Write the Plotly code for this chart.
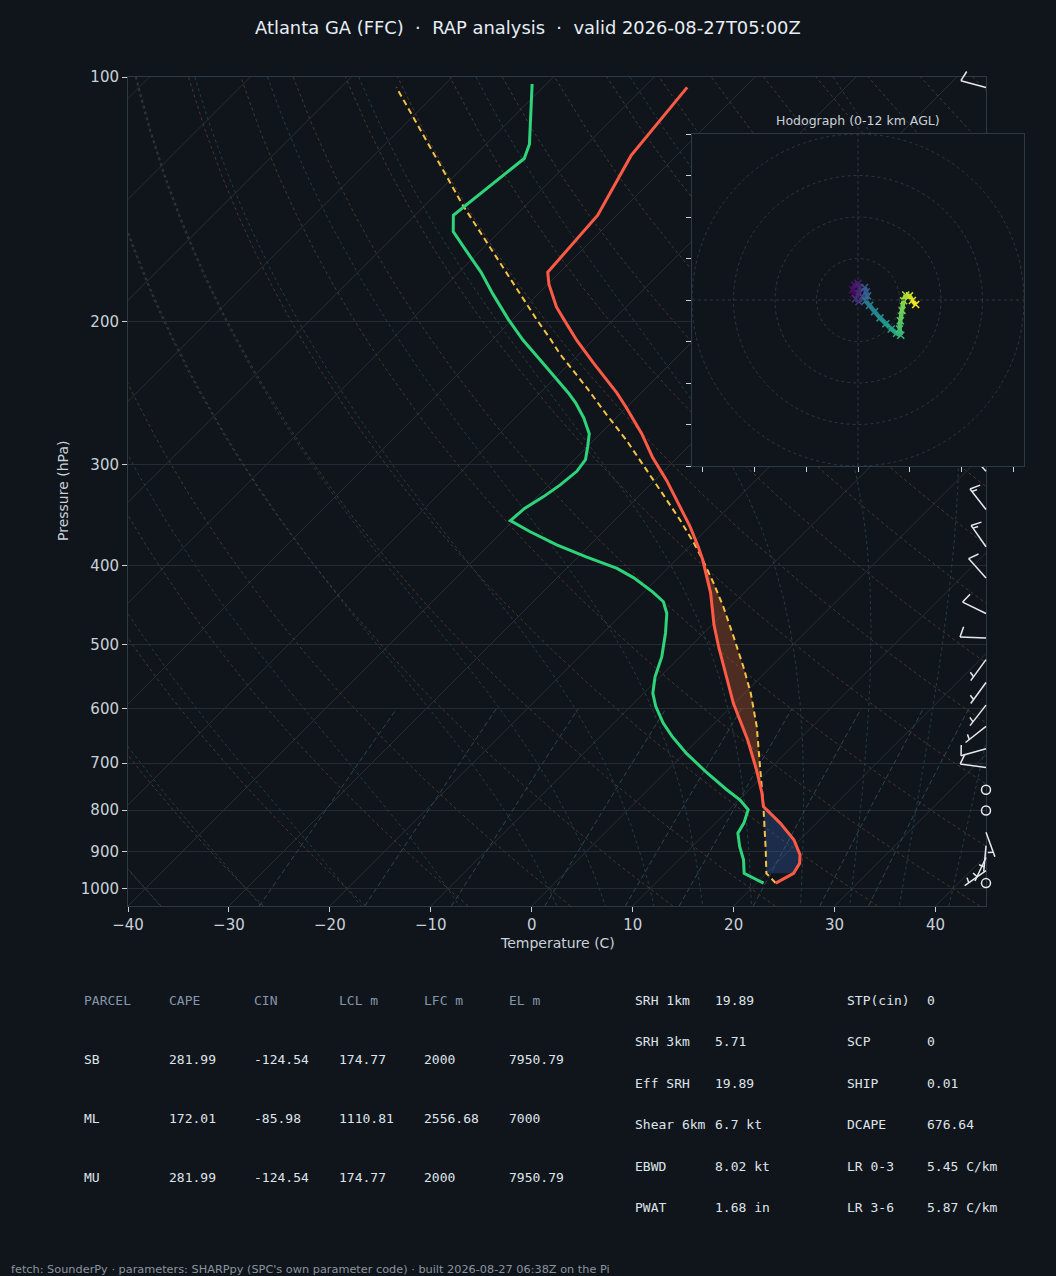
import numpy as np
import plotly.graph_objects as go
from plotly.colors import sample_colorscale

# --- sounding values (pressure hPa, temperature C) ---
ENV_P = [984, 957, 930, 908, 870, 830, 792, 762, 714, 655, 591, 503, 473, 432,
         393, 379, 358, 338, 314, 294, 275, 255, 245, 225, 211, 199, 192, 180,
         174, 148, 125, 103]
ENV_T = [21.9, 22.7, 22.3, 21.5, 19.4, 16.4, 13.1, 11.6, 8.8, 4.9, -0.1, -7.2,
         -9.8, -13.3, -17.4, -19.1, -21.9, -24.9, -28.8, -32.5, -35.9, -40.1,
         -42.4, -47.7, -51.6, -54.9, -56.9, -59.9, -61.2, -61.9, -64.5, -65.7]

DWPT_P = [984, 957, 921, 887, 854, 830, 799, 777, 755, 720, 681, 649, 625, 596,
          574, 548, 518, 484, 458, 443, 431, 414, 403, 390, 377, 363, 352, 340,
          329, 318, 306, 296, 285, 275, 263, 252, 245, 236, 223, 211, 199, 185,
          174, 164, 155, 148, 126, 121, 102]
DWPT_T = [20.7, 17.8, 16.4, 14.7, 13.2, 12.8, 11.9, 10.1, 7.8, 4.2, 0.2, -2.9,
          -5.1, -7.5, -9.1, -10.5, -11.8, -13.8, -15.6, -17.1, -19.1, -22.4,
          -25.0, -29.2, -33.3, -37.3, -40.3, -40.1, -39.4, -38.9, -38.6, -38.9,
          -40.0, -41.1, -43.2, -45.5, -47.2, -49.6, -53.3, -56.9, -60.4, -64.5,
          -67.8, -71.3, -74.6, -76.2, -74.8, -75.7, -81.4]

PARCEL_P = [984, 957, 895, 792, 707, 631, 574, 532, 489, 449, 420, 393, 375,
            351, 326, 305, 280, 260, 241, 219, 210, 199, 144, 103]
PARCEL_T = [21.9, 20.0, 17.6, 13.1, 8.8, 4.5, 0.6, -2.8, -6.7, -10.7, -14.0,
            -17.4, -19.9, -23.6, -27.9, -31.8, -36.8, -41.4, -46.0, -52.0,
            -54.4, -57.6, -76.2, -94.5]

# pressure bounds of the shaded areas
CAPE_BOUNDS = (393, 792)
CIN_BOUNDS = (792, 957)

# wind barbs (knots)
BARB_P = [103, 306, 341, 379, 414, 458, 491, 522, 557, 594, 631, 672, 709,
          755, 801, 852, 885, 915, 950, 984]
BARB_DIR = [285, 318, 322, 325, 318, 296, 272, 216, 216, 218, 232, 254, 278,
            0, 0, 160, 185, 205, 235, 0]
BARB_KT = [10, 15, 15, 15, 10, 10, 10, 5, 5, 5, 5, 10, 10, 0, 0, 5, 5, 5, 5, 0]

# hodograph (km AGL, u/v knots)
HODO_Z = [0, 0.25, 0.5, 0.75, 1.0, 1.25, 1.5, 1.75, 2.0, 2.5, 3.0, 3.5, 4.0,
          4.5, 5.0, 5.5, 6.0, 6.5, 7.0, 7.5, 8.0, 8.5, 9.0, 9.5, 10.0, 10.5,
          11.0, 11.5, 12.0]
HODO_U = [-0.3, -1.0, -1.3, -0.8, 0.0, 0.5, 0.2, -0.6, 0.2, 1.3, 2.0, 1.6, 2.3,
          1.8, 2.8, 4.0, 5.3, 6.7, 8.0, 9.3, 10.3, 10.0, 10.2, 10.6, 11.0,
          11.5, 12.4, 13.1, 13.9]
HODO_V = [0.5, 1.5, 2.5, 3.6, 4.0, 3.0, 1.5, 0.3, -0.4, 0.6, 2.0, 3.0, 1.0,
          -0.2, -1.3, -2.8, -4.3, -5.7, -7.0, -8.0, -8.5, -7.0, -5.0, -2.5,
          -0.2, 1.2, 1.0, -0.1, -1.1]
HODO_RINGS = [10, 20, 30, 40]
HODO_XTICKS = [-37.5, -25, -12.5, 0, 12.5, 25, 37.5]
HODO_YTICKS = [-40, -30, -20, -10, 0, 10, 20, 30, 40]

# background lines
DRY_T0 = list(range(-40, 241, 10))
MOIST_T0 = [-40, -30, -20, -10, 0, 5, 10, 15, 20, 25, 30, 35, 40, 45]
MIX_W = [0.0004, 0.001, 0.002, 0.004, 0.007, 0.01, 0.016, 0.024, 0.032]
ISOTHERMS = list(range(-130, 50, 10))

X_TICKS = list(range(-40, 41, 10))
P_TICKS = [100, 200, 300, 400, 500, 600, 700, 800, 900, 1000]

# table
PARCEL_HEAD = ["PARCEL", "CAPE", "CIN", "LCL m", "LFC m", "EL m"]
PARCEL_ROWS = [["SB", "281.99", "-124.54", "174.77", "2000", "7950.79"],
               ["ML", "172.01", "-85.98", "1110.81", "2556.68", "7000"],
               ["MU", "281.99", "-124.54", "174.77", "2000", "7950.79"]]
KIN_LABELS = ["SRH 1km", "SRH 3km", "Eff SRH", "Shear 6km", "EBWD", "PWAT"]
KIN_VALUES = ["19.89", "5.71", "19.89", "6.7 kt", "8.02 kt", "1.68 in"]
IDX_LABELS = ["STP(cin)", "SCP", "SHIP", "DCAPE", "LR 0-3", "LR 3-6"]
IDX_VALUES = ["0", "0", "0.01", "676.64", "5.45 C/km", "5.87 C/km"]

TITLE = "Atlanta GA (FFC)  ·  RAP analysis  ·  valid 2026-08-27T05:00Z"
FOOTER = ("fetch: SounderPy · parameters: SHARPpy (SPC's own parameter code) · "
          "built 2026-08-27 06:38Z on the Pi")

# --- geometry ---
W, H = 1056, 1276
L_PX, R_PX, T_PX, B_PX = 128, 986, 77, 906
P_BOT, P_TOP = 1050.0, 100.0
T_LO, T_HI = -40, 45
DEG_PX = (R_PX - L_PX) / (T_HI - T_LO)
DEC_PX = (B_PX - T_PX) / np.log10(P_BOT / P_TOP)
SKEW = DEC_PX / DEG_PX
HODO_BOX = (692, 1024, 134, 466)

BG = "#10151c"
SPINE = "#2e3946"
GRID = "#232b35"
TEXT = "#c9d1d9"
FONT = "DejaVu Sans"
MONO = "DejaVu Sans Mono"


def skew(t, p):
    return np.asarray(t, float) + SKEW * np.log10(P_BOT / np.asarray(p, float))


def p_to_py(p):
    return T_PX + DEC_PX * np.log10(np.asarray(p, float) / P_TOP)


def join(xs_list, ys_list):
    x, y = [], []
    for xs, ys in zip(xs_list, ys_list):
        x += [float(v) for v in xs] + [None]
        y += [float(v) for v in ys] + [None]
    return x, y


def moist_adiabat(t0c, pres):
    rd, cp, lv, eps = 287.04, 1005.7, 2.501e6, 0.622

    def dtdp(p, t):
        tc = t - 273.15
        es = 6.112 * np.exp(17.67 * tc / (tc + 243.5))
        rs = eps * es / (p - es)
        return (rd * t + lv * rs) / (cp + lv * lv * rs * eps / (rd * t * t)) / p

    out = []
    for seg in (pres[pres <= 1000][::-1], pres[pres >= 1000]):
        t, p0, vals = t0c + 273.15, 1000.0, []
        for p1 in seg:
            h = p1 - p0
            k1 = dtdp(p0, t)
            k2 = dtdp(p0 + h / 2, t + h / 2 * k1)
            k3 = dtdp(p0 + h / 2, t + h / 2 * k2)
            k4 = dtdp(p1, t + h * k3)
            t += h / 6 * (k1 + 2 * k2 + 2 * k3 + k4)
            p0 = p1
            vals.append(t - 273.15)
        out.append((seg, vals))
    p = np.concatenate([out[0][0][::-1], out[1][0]])
    t = np.concatenate([np.array(out[0][1])[::-1], np.array(out[1][1])])
    return t, p


fig = go.Figure()

# isotherms
pp = np.array([P_BOT, P_TOP])
x, y = join([skew([t, t], pp) for t in ISOTHERMS], [pp] * len(ISOTHERMS))
fig.add_trace(go.Scatter(x=x, y=y, mode="lines", line=dict(color="#262e38", width=1)))

# dry adiabats
pl = np.linspace(P_BOT, P_TOP, 60)
dry = [(t0 + 273.15) * (pl / 1000.0) ** 0.2857 - 273.15 for t0 in DRY_T0]
x, y = join([skew(t, pl) for t in dry], [pl] * len(dry))
fig.add_trace(go.Scatter(x=x, y=y, mode="lines",
                         line=dict(color="#4a372a", width=1, dash="3px,3px")))

# moist adiabats
pm = np.concatenate([np.arange(100, 1000, 5.0), [1000.0, 1025.0, 1050.0]])
moist = [moist_adiabat(t0, pm) for t0 in MOIST_T0]
x, y = join([skew(t, p) for t, p in moist], [p for t, p in moist])
fig.add_trace(go.Scatter(x=x, y=y, mode="lines",
                         line=dict(color="#233c46", width=1, dash="3px,3px")))

# mixing ratio lines
pw = np.linspace(P_BOT, 600, 20)
mix = []
for w in MIX_W:
    lnr = np.log(w * pw / (0.622 + w) / 6.112)
    mix.append(243.5 * lnr / (17.67 - lnr))
x, y = join([skew(t, pw) for t in mix], [pw] * len(mix))
fig.add_trace(go.Scatter(x=x, y=y, mode="lines",
                         line=dict(color="#2a4650", width=1, dash="5px,3px")))

# CAPE / CIN shading
envP, envT = np.array(ENV_P, float), np.array(ENV_T, float)
parP, parT = np.array(PARCEL_P, float), np.array(PARCEL_T, float)
for (lo, hi), col in ((CAPE_BOUNDS, "rgba(220,100,50,0.30)"),
                      (CIN_BOUNDS, "rgba(60,110,200,0.27)")):
    me = (envP >= lo) & (envP <= hi)
    mp = (parP >= lo) & (parP <= hi)
    px_ = np.concatenate([skew(envT[me], envP[me]), skew(parT[mp], parP[mp])[::-1]])
    py_ = np.concatenate([envP[me], parP[mp][::-1]])
    fig.add_trace(go.Scatter(x=px_, y=py_, mode="lines", fill="toself",
                             fillcolor=col, line=dict(width=0)))

fig.add_trace(go.Scatter(x=skew(PARCEL_T, PARCEL_P), y=PARCEL_P, mode="lines",
                         line=dict(color="#f5c242", width=2, dash="6px,4px")))
fig.add_trace(go.Scatter(x=skew(DWPT_T, DWPT_P), y=DWPT_P, mode="lines",
                         line=dict(color="#2ed47a", width=3)))
fig.add_trace(go.Scatter(x=skew(ENV_T, ENV_P), y=ENV_P, mode="lines",
                         line=dict(color="#ff5a45", width=3)))

# wind barbs on a pixel overlay
BL = 26.0
bx, by, cx, cy = [], [], [], []
for p, d, s in zip(BARB_P, BARB_DIR, BARB_KT):
    x0, y0 = float(R_PX), float(p_to_py(p))
    n5 = int(round(s / 5.0))
    if n5 == 0:
        cx.append(x0)
        cy.append(y0)
        continue
    r = np.deg2rad(d)
    sx, sy = np.sin(r), -np.cos(r)
    fx, fy = np.cos(r), np.sin(r)
    bx += [x0, x0 + BL * sx, None]
    by += [y0, y0 + BL * sy, None]
    pos = BL
    for _ in range(n5 // 2):
        ax_, ay_ = x0 + pos * sx, y0 + pos * sy
        bx += [ax_, ax_ + 0.4 * BL * fx - 0.125 * BL * sx, None]
        by += [ay_, ay_ + 0.4 * BL * fy - 0.125 * BL * sy, None]
        pos -= 0.125 * BL
    if n5 % 2:
        if n5 // 2 == 0:
            pos -= 1.5 * 0.125 * BL
        ax_, ay_ = x0 + pos * sx, y0 + pos * sy
        bx += [ax_, ax_ + 0.2 * BL * fx - 0.0625 * BL * sx, None]
        by += [ay_, ay_ + 0.2 * BL * fy - 0.0625 * BL * sy, None]
fig.add_trace(go.Scatter(x=bx, y=by, xaxis="x2", yaxis="y2", mode="lines",
                         line=dict(color="#e6e9ec", width=1.5)))
fig.add_trace(go.Scatter(x=cx, y=cy, xaxis="x2", yaxis="y2", mode="markers",
                         marker=dict(symbol="circle-open", size=9, color="#e6e9ec",
                                     line=dict(color="#e6e9ec", width=1.5))))

# hodograph inset (filled box masks the skew-T lines behind it)
fig.add_trace(go.Scatter(x=[-40, 40, 40, -40, -40], y=[-40, -40, 40, 40, -40],
                         xaxis="x3", yaxis="y3", mode="lines", fill="toself",
                         fillcolor=BG, line=dict(width=0)))
zc = sample_colorscale("Viridis", [z / 12.0 for z in HODO_Z])
for i in range(len(HODO_Z) - 1):
    fig.add_trace(go.Scatter(x=HODO_U[i:i + 2], y=HODO_V[i:i + 2], xaxis="x3",
                             yaxis="y3", mode="lines",
                             line=dict(color=zc[i], width=4.5)))
fig.add_trace(go.Scatter(x=HODO_U, y=HODO_V, xaxis="x3", yaxis="y3", mode="markers",
                         marker=dict(symbol="x-thin", size=7, color=zc,
                                     line=dict(color=zc, width=1.5))))

shapes = []
ring_line = dict(color="#2c3745", width=1, dash="3px,3px")
for r in HODO_RINGS:
    shapes.append(dict(type="circle", xref="x3", yref="y3", x0=-r, x1=r, y0=-r, y1=r,
                       line=ring_line, layer="above"))
shapes.append(dict(type="line", xref="x3", yref="y3", x0=-40, x1=40, y0=0, y1=0,
                   line=ring_line, layer="above"))
shapes.append(dict(type="line", xref="x3", yref="y3", x0=0, x1=0, y0=-40, y1=40,
                   line=ring_line, layer="above"))


def paper(xp, yp):
    return xp / W, 1 - yp / H


def note(xp, yp, text, size, color, family=FONT, xanchor="left", angle=0):
    x_, y_ = paper(xp, yp)
    return dict(x=x_, y=y_, xref="paper", yref="paper", text=text, showarrow=False,
                xanchor=xanchor, yanchor="middle", textangle=angle, borderpad=0,
                font=dict(family=family, size=size, color=color))


ann = [note(528, 27, TITLE, 17.9, "#e6edf3", xanchor="center"),
       note(557, 943, "Temperature (C)", 14, TEXT, xanchor="center"),
       note(63, 491, "Pressure (hPa)", 14, TEXT, xanchor="center", angle=-90),
       note(858, 120, "Hodograph (0-12 km AGL)", 12.5, TEXT, xanchor="center"),
       note(10, 1269, FOOTER, 11.3, "#8b949e")]
col_x = [83, 168, 253, 338, 423, 508]
for cxp, h in zip(col_x, PARCEL_HEAD):
    ann.append(note(cxp, 1000, h, 13, "#8595aa", MONO))
for ry, row in zip([1059, 1118, 1177], PARCEL_ROWS):
    for cxp, v in zip(col_x, row):
        ann.append(note(cxp, ry, v, 13, "#dfe4ea", MONO))
rows_y = [1000, 1041, 1083, 1124, 1166, 1207]
for ry, a, b, c, d in zip(rows_y, KIN_LABELS, KIN_VALUES, IDX_LABELS, IDX_VALUES):
    ann.append(note(634, ry, a, 13, "#dfe4ea", MONO))
    ann.append(note(714, ry, b, 13, "#dfe4ea", MONO))
    ann.append(note(846, ry, c, 13, "#dfe4ea", MONO))
    ann.append(note(926, ry, d, 13, "#dfe4ea", MONO))

axis_common = dict(showline=True, mirror=True, linecolor=SPINE, linewidth=1,
                   zeroline=False, ticks="outside", ticklen=5, tickwidth=1,
                   tickcolor=TEXT)
tick_font = dict(family=FONT, size=15, color=TEXT)
hx0, hx1, hy0, hy1 = HODO_BOX
fig.update_layout(
    width=W, height=H, margin=dict(l=0, r=0, t=0, b=0, pad=0, autoexpand=False),
    paper_bgcolor=BG, plot_bgcolor="rgba(0,0,0,0)", showlegend=False,
    xaxis=dict(domain=[L_PX / W, R_PX / W], range=[T_LO, T_HI], tickvals=X_TICKS,
               ticktext=[str(t).replace("-", "\u2212") for t in X_TICKS],
               showgrid=False, anchor="y", tickfont=tick_font, **axis_common),
    yaxis=dict(domain=[1 - B_PX / H, 1 - T_PX / H], type="log",
               range=[np.log10(P_BOT), np.log10(P_TOP)], tickvals=P_TICKS,
               ticktext=[str(p) for p in P_TICKS], showgrid=True, gridcolor=GRID,
               gridwidth=1, anchor="x", tickfont=tick_font, **axis_common),
    xaxis2=dict(domain=[0, 1], range=[0, W], visible=False, anchor="y2"),
    yaxis2=dict(domain=[0, 1], range=[H, 0], visible=False, anchor="x2"),
    xaxis3=dict(domain=[hx0 / W, hx1 / W], range=[-40, 40], tickvals=HODO_XTICKS,
                showticklabels=False, showgrid=False, anchor="y3", **axis_common),
    yaxis3=dict(domain=[1 - hy1 / H, 1 - hy0 / H], range=[-40, 40], tickvals=HODO_YTICKS,
                showticklabels=False, showgrid=False, anchor="x3", **axis_common),
    shapes=shapes, annotations=ann,
)

fig.write_html("out.html", config={"displayModeBar": False},
               post_script="document.body.style.margin='0';")
